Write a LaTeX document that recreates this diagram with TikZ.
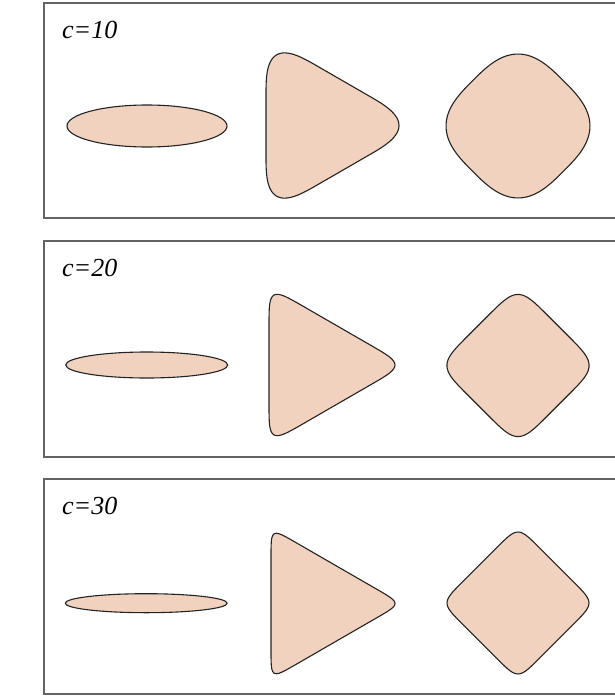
\documentclass[tikz,border=0pt]{standalone}
\usepackage{fontspec}
\setmainfont{Liberation Serif}
\definecolor{peach}{RGB}{241,210,191}
\definecolor{framegray}{RGB}{100,100,100}
\definecolor{outl}{RGB}{35,35,35}
\begin{document}
\begin{tikzpicture}[x=1pt,y=-1pt,
  panel/.style={draw=framegray,line width=1.1pt},
  blob/.style={draw=outl,fill=peach,line width=1.1pt,line join=round},
  clabel/.style={anchor=base west,inner sep=0pt,font=\fontsize{26}{30}\selectfont\itshape},
  declare function={
    pc(\u)=max(cos(\u),0.001);
    pnt(\ua,\ub,\uc,\pp)=max(\ua,\ub,\uc)*((\ua/max(\ua,\ub,\uc))^\pp+(\ub/max(\ua,\ub,\uc))^\pp+(\uc/max(\ua,\ub,\uc))^\pp)^(1/\pp);
    pnd(\ua,\ub,\uc,\ud,\pp)=max(\ua,\ub,\uc,\ud)*((\ua/max(\ua,\ub,\uc,\ud))^\pp+(\ub/max(\ua,\ub,\uc,\ud))^\pp+(\uc/max(\ua,\ub,\uc,\ud))^\pp+(\ud/max(\ua,\ub,\uc,\ud))^\pp)^(1/\pp);
    tri(\t,\rr,\pp)=\rr/pnt(pc(\t-180),pc(\t-60),pc(\t+60),\pp);
    dia(\t,\rr,\pp)=\rr/pnd(pc(\t-45),pc(\t-135),pc(\t+45),pc(\t+135),\pp);
  }]
\useasboundingbox (0,0) rectangle (615,696);
\clip (0,0) rectangle (615,696);

% panels
\draw[panel] (44,3) rectangle (640,218);
\draw[panel] (44,241) rectangle (640,457);
\draw[panel] (44,479) rectangle (640,694);

% labels
\node[clabel] (l1) at (62,38) {c=10};
\node[clabel] (l2) at (62,276) {c=20};
\node[clabel] (l3) at (62,514) {c=30};

% c=10
\draw[blob] (147,126) ellipse [x radius=80, y radius=21];
\draw[blob,shift={(317.4,125.5)}] plot[domain=0:360,samples=241] (\x:{tri(\x,51.4,3)}) -- cycle;
\draw[blob,shift={(518,126)}] plot[domain=0:360,samples=241] (\x:{dia(\x,64.1,3)}) -- cycle;

% c=20
\draw[blob] (146.7,365) ellipse [x radius=81, y radius=13];
\draw[blob,shift={(314.3,365)}] plot[domain=0:360,samples=241] (\x:{tri(\x,45.3,6)}) -- cycle;
\draw[blob,shift={(518,365.5)}] plot[domain=0:360,samples=241] (\x:{dia(\x,56.4,6)}) -- cycle;

% c=30
\draw[blob] (146.2,603.2) ellipse [x radius=81, y radius=9.5];
\draw[blob,shift={(314.5,603.5)}] plot[domain=0:360,samples=241] (\x:{tri(\x,43.5,9)}) -- cycle;
\draw[blob,shift={(518,603)}] plot[domain=0:360,samples=241] (\x:{dia(\x,54.2,9)}) -- cycle;
\end{tikzpicture}
\end{document}
